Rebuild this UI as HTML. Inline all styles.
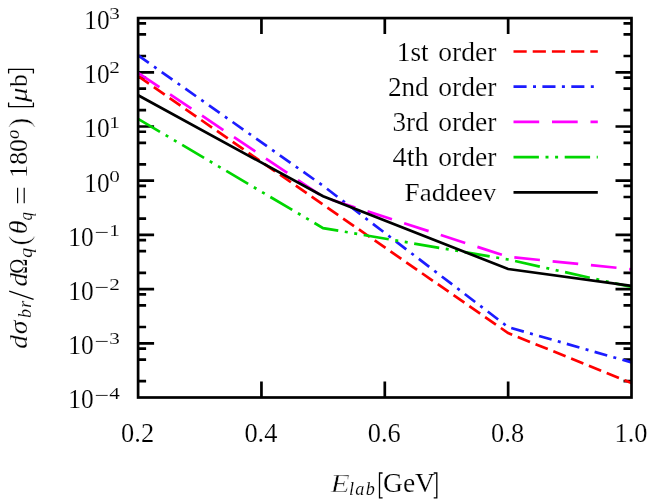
<!DOCTYPE html>
<html><head><meta charset="utf-8"><title>chart</title>
<style>
html,body{margin:0;padding:0;background:#fff;}
body{width:654px;height:502px;overflow:hidden;}
svg{display:block;will-change:transform;}
text{font-family:"Liberation Serif",serif;fill:#000;stroke:#fff;stroke-width:0.18px;}
.s{stroke-width:0.12px;}
.p{stroke-width:0.6px;}
.e{stroke-width:0.5px;}
.i{font-style:italic;}
</style></head><body>
<svg width="654" height="502" viewBox="0 0 654 502">
<rect width="654" height="502" fill="#fff"/>
<path d="M138.1 23.35h8 M631.5 23.35h-8 M138.1 34.42h8 M631.5 34.42h-8 M138.1 55.98h8 M631.5 55.98h-8 M138.1 72.30h16 M631.5 72.30h-16 M138.1 77.55h8 M631.5 77.55h-8 M138.1 88.62h8 M631.5 88.62h-8 M138.1 110.18h8 M631.5 110.18h-8 M138.1 126.50h16 M631.5 126.50h-16 M138.1 131.75h8 M631.5 131.75h-8 M138.1 142.82h8 M631.5 142.82h-8 M138.1 164.38h8 M631.5 164.38h-8 M138.1 180.70h16 M631.5 180.70h-16 M138.1 185.95h8 M631.5 185.95h-8 M138.1 197.02h8 M631.5 197.02h-8 M138.1 218.58h8 M631.5 218.58h-8 M138.1 234.90h16 M631.5 234.90h-16 M138.1 240.15h8 M631.5 240.15h-8 M138.1 251.22h8 M631.5 251.22h-8 M138.1 272.78h8 M631.5 272.78h-8 M138.1 289.10h16 M631.5 289.10h-16 M138.1 294.35h8 M631.5 294.35h-8 M138.1 305.42h8 M631.5 305.42h-8 M138.1 326.98h8 M631.5 326.98h-8 M138.1 343.30h16 M631.5 343.30h-16 M138.1 348.55h8 M631.5 348.55h-8 M138.1 359.62h8 M631.5 359.62h-8 M138.1 381.18h8 M631.5 381.18h-8 M261.45 397.5v-16 M261.45 18.1v16 M384.80 397.5v-16 M384.80 18.1v16 M508.15 397.5v-16 M508.15 18.1v16" stroke="#000" stroke-width="2.70" fill="none"/>
<g fill="none" stroke-width="2.70" stroke-linejoin="miter" stroke-linecap="butt">
<polyline points="138.1,76.2 323.1,204.6 508.1,333.0 631.5,383.1" stroke="#ff0000" stroke-dasharray="13.2 6.0"/>
<polyline points="138.1,55.4 323.1,185.8 508.1,327.1 631.5,362.4" stroke="#1c1cff" stroke-dasharray="13.1 6.4 3 6.4"/>
<polyline points="138.1,72.8 323.1,197.0 508.1,256.8 631.5,269.3" stroke="#ff00ff" stroke-dasharray="25.7 12.8"/>
<polyline points="138.1,118.9 323.1,228.1 508.1,259.5 631.5,287.0" stroke="#00d600" stroke-dasharray="25.4 6.6 3 6.6 3 6.6"/>
<polyline points="138.1,95.3 323.1,196.3 508.1,269.0 631.5,285.8" stroke="#000000"/>
</g>
<g fill="none" stroke-width="2.70">
<line x1="513.5" y1="51.5" x2="597.8" y2="51.5" stroke="#ff0000" stroke-dasharray="13.2 6.0"/>
<line x1="513.5" y1="86.7" x2="597.8" y2="86.7" stroke="#1c1cff" stroke-dasharray="13.1 6.4 3 6.4"/>
<line x1="513.5" y1="121.9" x2="597.8" y2="121.9" stroke="#ff00ff" stroke-dasharray="25.7 12.8"/>
<line x1="513.5" y1="157.1" x2="597.8" y2="157.1" stroke="#00d600" stroke-dasharray="25.4 6.6 3 6.6 3 6.6"/>
<line x1="513.5" y1="192.3" x2="597.8" y2="192.3" stroke="#000000"/>
</g>
<text x="428.7" y="60.9" font-size="26.8" text-anchor="end" textLength="31.9" lengthAdjust="spacingAndGlyphs">1st</text><text x="496.4" y="60.9" font-size="26.8" text-anchor="end" textLength="58.2" lengthAdjust="spacingAndGlyphs">order</text>
<text x="428.7" y="95.8" font-size="26.8" text-anchor="end" textLength="40.8" lengthAdjust="spacingAndGlyphs">2nd</text><text x="496.4" y="95.8" font-size="26.8" text-anchor="end" textLength="58.2" lengthAdjust="spacingAndGlyphs">order</text>
<text x="428.7" y="130.9" font-size="26.8" text-anchor="end" textLength="36.2" lengthAdjust="spacingAndGlyphs">3rd</text><text x="496.4" y="130.9" font-size="26.8" text-anchor="end" textLength="58.2" lengthAdjust="spacingAndGlyphs">order</text>
<text x="428.7" y="165.8" font-size="26.8" text-anchor="end" textLength="36.2" lengthAdjust="spacingAndGlyphs">4th</text><text x="496.4" y="165.8" font-size="26.8" text-anchor="end" textLength="58.2" lengthAdjust="spacingAndGlyphs">order</text>
<text x="496.4" y="200.7" font-size="25.6" text-anchor="end" textLength="91.8" lengthAdjust="spacingAndGlyphs">Faddeev</text>
<rect x="138.1" y="18.1" width="493.4" height="379.4" stroke="#000" stroke-width="2.70" fill="none"/>
<text x="84.2" y="28.9" font-size="27" textLength="25.4" lengthAdjust="spacingAndGlyphs">10</text><text x="109.2" y="19.1" font-size="17.7" class="s" textLength="10.6" lengthAdjust="spacingAndGlyphs">3</text>
<text x="84.2" y="83.1" font-size="27" textLength="25.4" lengthAdjust="spacingAndGlyphs">10</text><text x="109.2" y="73.3" font-size="17.7" class="s" textLength="10.6" lengthAdjust="spacingAndGlyphs">2</text>
<text x="84.2" y="137.3" font-size="27" textLength="25.4" lengthAdjust="spacingAndGlyphs">10</text><text x="109.2" y="127.5" font-size="17.7" class="s" textLength="10.6" lengthAdjust="spacingAndGlyphs">1</text>
<text x="84.2" y="191.5" font-size="27" textLength="25.4" lengthAdjust="spacingAndGlyphs">10</text><text x="109.2" y="181.7" font-size="17.7" class="s" textLength="10.6" lengthAdjust="spacingAndGlyphs">0</text>
<text x="68.2" y="245.7" font-size="27" textLength="25.4" lengthAdjust="spacingAndGlyphs">10</text><text x="94.6" y="238.3" font-size="17.7" class="s" textLength="14.6" lengthAdjust="spacingAndGlyphs">−</text><text x="109.2" y="235.9" font-size="17.7" class="s" textLength="10.6" lengthAdjust="spacingAndGlyphs">1</text>
<text x="68.2" y="299.9" font-size="27" textLength="25.4" lengthAdjust="spacingAndGlyphs">10</text><text x="94.6" y="292.5" font-size="17.7" class="s" textLength="14.6" lengthAdjust="spacingAndGlyphs">−</text><text x="109.2" y="290.1" font-size="17.7" class="s" textLength="10.6" lengthAdjust="spacingAndGlyphs">2</text>
<text x="68.2" y="354.1" font-size="27" textLength="25.4" lengthAdjust="spacingAndGlyphs">10</text><text x="94.6" y="346.7" font-size="17.7" class="s" textLength="14.6" lengthAdjust="spacingAndGlyphs">−</text><text x="109.2" y="344.3" font-size="17.7" class="s" textLength="10.6" lengthAdjust="spacingAndGlyphs">3</text>
<text x="68.2" y="408.3" font-size="27" textLength="25.4" lengthAdjust="spacingAndGlyphs">10</text><text x="94.6" y="400.9" font-size="17.7" class="s" textLength="14.6" lengthAdjust="spacingAndGlyphs">−</text><text x="109.2" y="398.5" font-size="17.7" class="s" textLength="10.6" lengthAdjust="spacingAndGlyphs">4</text>
<text x="137.6" y="441.5" font-size="27.2" text-anchor="middle" textLength="33" lengthAdjust="spacingAndGlyphs">0.2</text>
<text x="260.9" y="441.5" font-size="27.2" text-anchor="middle" textLength="33" lengthAdjust="spacingAndGlyphs">0.4</text>
<text x="384.3" y="441.5" font-size="27.2" text-anchor="middle" textLength="33" lengthAdjust="spacingAndGlyphs">0.6</text>
<text x="507.6" y="441.5" font-size="27.2" text-anchor="middle" textLength="33" lengthAdjust="spacingAndGlyphs">0.8</text>
<text x="631.0" y="441.5" font-size="27.2" text-anchor="middle" textLength="33" lengthAdjust="spacingAndGlyphs">1.0</text>
<text x="330.6" y="491.8" font-size="26" class="i e" textLength="19.2" lengthAdjust="spacingAndGlyphs">E</text><text x="349.0" y="495.4" font-size="18.2" class="i s" textLength="25.8" lengthAdjust="spacing">lab</text><text x="383.0" y="492.2" font-size="26.4" textLength="52.0" lengthAdjust="spacingAndGlyphs">GeV</text><path d="M382.6 473H379.5V497.8H382.6M433.7 473H436.8V497.8H433.7" fill="none" stroke="#000" stroke-width="1.3"/>
<g transform="translate(27.4,348.3) rotate(-90)">
<text x="-0.4" y="0.0" font-size="26" class="i" textLength="13.6" lengthAdjust="spacingAndGlyphs">d</text><text x="14.0" y="0.0" font-size="26" class="i" textLength="13.6" lengthAdjust="spacingAndGlyphs">σ</text><text x="30.2" y="4.0" font-size="18.2" class="i s" textLength="17.4" lengthAdjust="spacing">br</text><text x="61.9" y="0.0" font-size="26" class="i" textLength="13.6" lengthAdjust="spacingAndGlyphs">d</text><text x="74.6" y="0.0" font-size="26" textLength="15.0" lengthAdjust="spacingAndGlyphs">Ω</text><text x="90.4" y="5.0" font-size="18.2" class="i s" textLength="10.2" lengthAdjust="spacingAndGlyphs">q</text><text x="102.6" y="1.3" font-size="29.5" class="p" textLength="10.4" lengthAdjust="spacingAndGlyphs">(</text><text x="114.0" y="0.0" font-size="26" class="i" textLength="13.8" lengthAdjust="spacingAndGlyphs">θ</text><text x="127.8" y="5.0" font-size="18.2" class="i s" textLength="8.4" lengthAdjust="spacingAndGlyphs">q</text><text x="170.6" y="0.0" font-size="26" textLength="38.6" lengthAdjust="spacingAndGlyphs">180</text><text x="209.3" y="-8.2" font-size="18.2" class="i s" textLength="9.4" lengthAdjust="spacingAndGlyphs">o</text><text x="220.4" y="1.3" font-size="29.5" class="p" textLength="10.4" lengthAdjust="spacingAndGlyphs">)</text><text x="246.2" y="0.0" font-size="26" class="i" textLength="14.4" lengthAdjust="spacingAndGlyphs">μ</text><text x="261.2" y="0.0" font-size="26" textLength="12.8" lengthAdjust="spacingAndGlyphs">b</text>
<path d="M48.9 6.2L57.1 -18.2" fill="none" stroke="#000" stroke-width="1.25"/><path d="M145 -9.8H160.6M145 -3.2H160.6" fill="none" stroke="#000" stroke-width="1.15"/><path d="M245.9 -18.8H241.7V6H245.9M274.8 -18.8H279V6H274.8" fill="none" stroke="#000" stroke-width="1.3"/>
</g>
</svg>
</body></html>
